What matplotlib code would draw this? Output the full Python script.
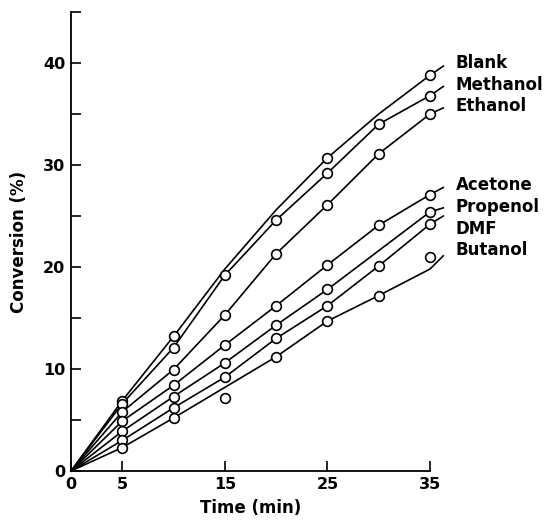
import numpy as np
import matplotlib.pyplot as plt

plt.rcParams['font.family'] = ['DejaVu Sans']

# sampling times (min)
times = np.array([0, 5, 10, 15, 20, 25, 30, 35])

names = ['Blank', 'Methanol', 'Ethanol', 'Acetone', 'Propenol', 'DMF', 'Butanol']

# curve values for each solvent (%)
blank_line    = [0, 6.9, 13.2, 19.8, 25.6, 30.7, 35.0, 38.8]
methanol_line = [0, 6.6, 12.1, 19.2, 24.6, 29.2, 34.0, 36.8]
ethanol_line  = [0, 5.8, 9.95, 15.3, 21.3, 26.1, 31.1, 35.0]
acetone_line  = [0, 4.9, 8.4, 12.35, 16.2, 20.2, 24.1, 27.1]
propenol_line = [0, 3.9, 7.3, 10.6, 14.3, 17.8, 21.6, 25.4]
dmf_line      = [0, 3.0, 6.2, 9.2, 13.0, 16.2, 20.1, 24.2]
butanol_line  = [0, 2.3, 5.2, 8.2, 11.2, 14.7, 17.2, 19.8]

# measured points (nan = no marker)
nan = np.nan
blank_pts    = [nan, 6.9, 13.2, nan, nan, 30.7, nan, 38.8]
methanol_pts = [nan, 6.6, 12.1, 19.2, 24.6, 29.2, 34.0, 36.8]
ethanol_pts  = [nan, 5.8, 9.95, 15.3, 21.3, 26.1, 31.1, 35.0]
acetone_pts  = [nan, 4.9, 8.4, 12.35, 16.2, 20.2, 24.1, 27.1]
propenol_pts = [nan, 3.9, 7.3, 10.6, 14.3, 17.8, nan, 25.4]
dmf_pts      = [nan, 3.0, 6.2, 9.2, 13.0, 16.2, 20.1, 24.2]
butanol_pts  = [nan, 2.3, 5.2, 7.2, 11.2, 14.7, 17.2, 21.0]

# end of the leader line past 35 min, and where the label sits
tail_t = 36.3
tail_vals  = [39.7, 37.7, 35.6, 27.8, 25.8, 25.0, 21.1]
label_t = 37.5
label_vals = [40.0, 37.8, 35.8, 28.0, 25.9, 23.7, 21.7]

lines = [blank_line, methanol_line, ethanol_line, acetone_line,
         propenol_line, dmf_line, butanol_line]
points = [blank_pts, methanol_pts, ethanol_pts, acetone_pts,
          propenol_pts, dmf_pts, butanol_pts]

fig = plt.figure(figsize=(5.46, 5.2), dpi=100)
ax = fig.add_axes([0.130, 0.0942, 0.6575, 0.8827])

for name, ln, pts, tv, lv in zip(names, lines, points, tail_vals, label_vals):
    ax.plot(np.append(times, tail_t), np.append(ln, tv), color='black',
            lw=1.2, clip_on=False, zorder=2)
    ax.plot(times, pts, 'o', ms=7, mfc='white', mec='black', mew=1.2,
            clip_on=False, zorder=3)
    ax.text(label_t, lv, name, fontsize=12, fontweight='bold',
            va='center', ha='left')

ax.set_xlim(0, 35)
ax.set_ylim(0, 45)
ax.spines['top'].set_visible(False)
ax.spines['right'].set_visible(False)
ax.spines['left'].set_linewidth(1.3)
ax.spines['bottom'].set_linewidth(1.3)

ax.set_xticks([0, 5, 15, 25, 35])
ax.set_xticklabels(['0', '5', '15', '25', '35'], fontweight='bold')
ax.set_yticks([0, 10, 20, 30, 40])
ax.set_yticklabels(['0', '10', '20', '30', '40'], fontweight='bold')
ax.set_yticks([5, 15, 25, 35, 45], minor=True)
ax.tick_params(axis='both', direction='in', length=7.5, width=1.2,
               labelsize=11.5, pad=4)
ax.tick_params(axis='y', which='minor', direction='in', length=7.5, width=1.2)

ax.set_xlabel('Time (min)', fontsize=12, fontweight='bold', labelpad=5)
ax.set_ylabel('Conversion (%)', fontsize=12, fontweight='bold', labelpad=11)

fig.savefig('out.png', dpi=100)
